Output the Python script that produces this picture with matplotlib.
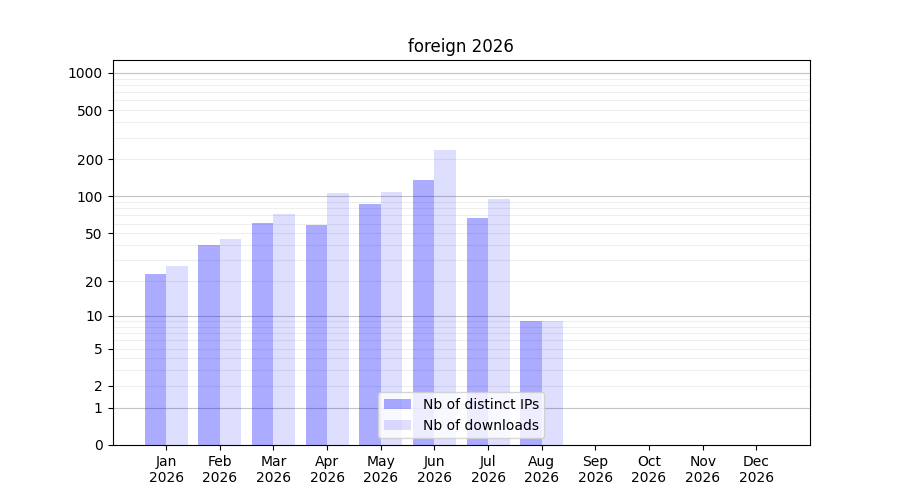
import numpy as np
import matplotlib
matplotlib.use('Agg')
from matplotlib import pyplot as plt

months = ['Jan', 'Feb', 'Mar', 'Apr', 'May', 'Jun', 'Jul', 'Aug', 'Sep', 'Oct', 'Nov', 'Dec']
year = '2026'
ips = [23, 40, 61, 58, 87, 136, 67, 9, 0, 0, 0, 0]
downloads = [27, 45, 72, 107, 109, 238, 95, 9, 0, 0, 0, 0]
yticks = [0, 1, 2, 5, 10, 20, 50, 100, 200, 500, 1000]

# echelle log(1+x)
def fwd(v):
    return np.log10(1 + np.clip(v, 0, None))

def inv(v):
    return 10 ** v - 1

fig, ax = plt.subplots(figsize=(9, 5), dpi=100)
ax.set_yscale('function', functions=(fwd, inv))

x = np.arange(len(months))
ax.bar(x - 0.2, ips, width=0.4, color='blue', alpha=0.33, label='Nb of distinct IPs', zorder=2)
ax.bar(x + 0.2, downloads, width=0.4, color='blue', alpha=0.13, label='Nb of downloads', zorder=2)

# grille
majors = [1, 10, 100, 1000]
minors = [m * d for d in (1, 10, 100, 1000) for m in range(2, 10)]
for v in minors:
    ax.axhline(v, color='#eeeeee', lw=0.8, zorder=1)
for v in majors:
    ax.axhline(v, color='#c4c4c4', lw=0.8, zorder=1)

ax.set_yticks(yticks)
ax.set_yticklabels([str(t) for t in yticks])
ax.minorticks_off()
ax.set_ylim(0, 1273)
ax.set_xticks(x)
ax.set_xticklabels([m + '\n' + year for m in months])
ax.set_xlim(-1, 12)
ax.set_title('foreign 2026')
ax.legend(loc='lower center')

plt.savefig('out.png')
